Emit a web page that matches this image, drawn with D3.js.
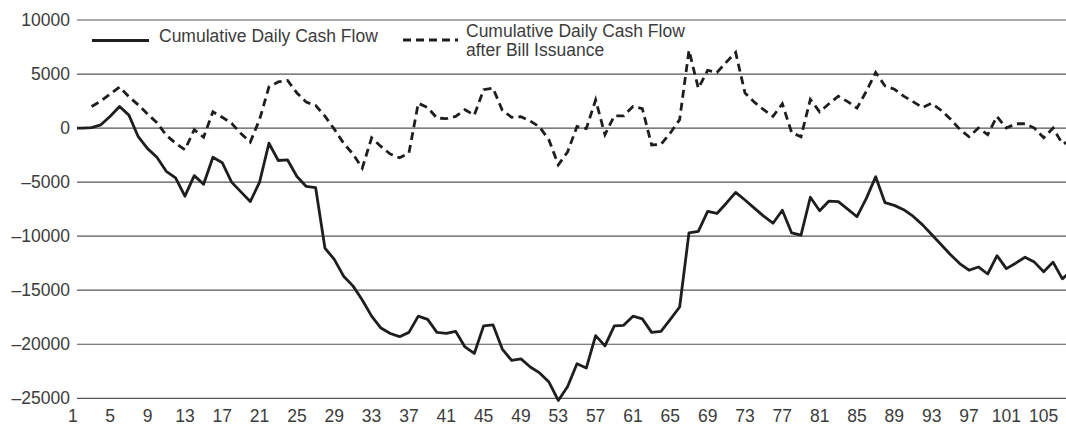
<html>
<head>
    <title>Cumulative Daily Cash Flow</title>
    <style>
        body { margin: 0; background: #fff; }
        text { font-family: "Liberation Sans", Arial, sans-serif; fill: #3c3c3c; }
    </style>
</head>
<body>
<svg id="svg" width="1066" height="426"></svg>
<script src="https://d3js.org/d3.v7.min.js" charset="utf-8"></script>
<script>
    // days 1..108
    const days = d3.range(1, 109);

    const cashFlow = [
        0, 0, 50, 300, 1100, 2000, 1200, -800, -1900, -2700,
        -4000, -4600, -6300, -4400, -5200, -2700, -3200, -5000, -5900, -6800,
        -5000, -1400, -3000, -2950, -4480, -5400, -5500, -11100, -12150, -13700,
        -14600, -15900, -17400, -18500, -19000, -19300, -18900, -17400, -17700, -18900,
        -19000, -18800, -20250, -20850, -18300, -18200, -20450, -21500, -21350, -22100,
        -22650, -23500, -25200, -23900, -21800, -22200, -19200, -20150, -18300, -18250,
        -17400, -17650, -18900, -18800, -17700, -16550, -9700, -9550, -7700, -7900,
        -6950, -5950, -6650, -7400, -8150, -8800, -7600, -9700, -9900, -6400,
        -7650, -6750, -6800, -7500, -8200, -6500, -4500, -6900, -7150, -7550,
        -8150, -8930, -9850, -10770, -11700, -12530, -13150, -12850, -13500, -11800,
        -13000, -12500, -11950, -12400, -13300, -12400, -13950, -13200
    ];

    // no bill issuance series before day 3
    const afterBills = [
        null, null, 2000, 2500, 3150, 3800, 2900, 2150, 1300, 500,
        -650, -1400, -2000, -150, -850, 1500, 1000, 450, -500, -1300,
        800, 3800, 4270, 4400, 3250, 2400, 2100, 1100, -100, -1400,
        -2400, -3700, -900, -1700, -2400, -2750, -2300, 2300, 1900, 930,
        870, 1080, 1700, 1200, 3550, 3700, 1650, 1000, 1050, 650,
        100, -1100, -3400, -2200, 150, -50, 2600, -600, 1130, 1130,
        2000, 1800, -1560, -1500, -450, 780, 7200, 3680, 5350, 5150,
        6100, 7000, 3250, 2400, 1700, 1080, 2250, -420, -800, 2650,
        1500, 2250, 2950, 2450, 1850, 3400, 5150, 3900, 3600, 2950,
        2450, 1900, 2300, 1650, 850, -100, -800, 0, -600, 1080,
        0, 400, 400, 0, -900, 0, -1450, -1200
    ];

    const yTicks = [10000, 5000, 0, -5000, -10000, -15000, -20000, -25000];
    const xTicks = d3.range(1, 106, 4);

    const legendSolid = "Cumulative Daily Cash Flow";
    const legendDashed = ["Cumulative Daily Cash Flow", "after Bill Issuance"];

    const svg = d3.select("#svg");

    const x = d3.scaleLinear().domain([1, 108]).range([72.9, 1071.7]);
    const y = d3.scaleLinear().domain([-25000, 10000]).range([398.3, 20]);

    const left = 77, right = 1066;

    svg.append("defs").append("clipPath").attr("id", "plot")
        .append("rect")
        .attr("x", left).attr("y", 0)
        .attr("width", right - left).attr("height", 426);

    // gridlines
    svg.append("g")
        .selectAll("line")
        .data(yTicks)
        .enter().append("line")
        .attr("x1", left)
        .attr("x2", right)
        .attr("y1", function(d) { return y(d); })
        .attr("y2", function(d) { return y(d); })
        .attr("stroke", "#555")
        .attr("stroke-width", 1.2);

    // y axis labels
    svg.append("g")
        .selectAll("text")
        .data(yTicks)
        .enter().append("text")
        .attr("x", 70)
        .attr("y", function(d) { return y(d); })
        .attr("dy", "0.35em")
        .attr("text-anchor", "end")
        .style("font-size", "17.5px")
        .text(function(d) { return d < 0 ? "\u2013" + Math.abs(d) : d; });

    // x axis labels
    svg.append("g")
        .selectAll("text")
        .data(xTicks)
        .enter().append("text")
        .attr("x", function(d) { return x(d); })
        .attr("y", 422)
        .attr("text-anchor", "middle")
        .style("font-size", "17.5px")
        .text(function(d) { return d; });

    const line = d3.line()
        .defined(function(d) { return d[1] !== null; })
        .x(function(d) { return x(d[0]); })
        .y(function(d) { return y(d[1]); });

    const plot = svg.append("g").attr("clip-path", "url(#plot)");

    plot.append("path")
        .datum(days.map(function(d, i) { return [d, cashFlow[i]]; }))
        .attr("d", line)
        .attr("fill", "none")
        .attr("stroke", "#1e1e1e")
        .attr("stroke-width", 2.8)
        .attr("stroke-linejoin", "round");

    plot.append("path")
        .datum(days.map(function(d, i) { return [d, afterBills[i]]; }))
        .attr("d", line)
        .attr("fill", "none")
        .attr("stroke", "#1e1e1e")
        .attr("stroke-width", 2.8)
        .attr("stroke-dasharray", "8,5");

    // legend
    const legend = svg.append("g");
    legend.append("line")
        .attr("x1", 92).attr("x2", 149)
        .attr("y1", 40.5).attr("y2", 40.5)
        .attr("stroke", "#1e1e1e")
        .attr("stroke-width", 2.8);
    legend.append("text")
        .attr("x", 159).attr("y", 41.5)
        .style("font-size", "17.5px")
        .text(legendSolid);

    legend.append("line")
        .attr("x1", 403).attr("x2", 458)
        .attr("y1", 40).attr("y2", 40)
        .attr("stroke", "#1e1e1e")
        .attr("stroke-width", 2.8)
        .attr("stroke-dasharray", "8,5");
    legend.append("g")
        .selectAll("text")
        .data(legendDashed)
        .enter().append("text")
        .attr("x", 466)
        .attr("y", function(d, i) { return 36.5 + i * 19.5; })
        .style("font-size", "17.5px")
        .text(function(d) { return d; });
</script>
</body>
</html>
